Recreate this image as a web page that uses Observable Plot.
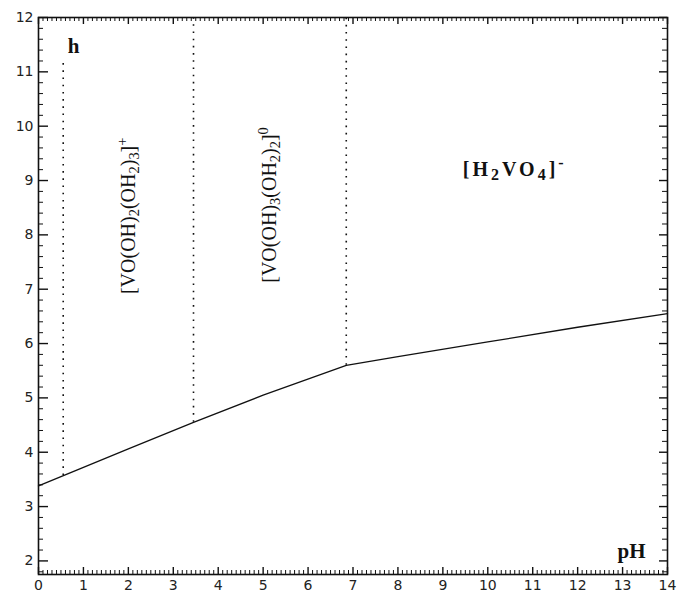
<!DOCTYPE html>
<html><head><meta charset="utf-8">
<script src="https://cdn.jsdelivr.net/npm/d3@7"></script>
<script src="https://cdn.jsdelivr.net/npm/@observablehq/plot@0.6"></script>
<style>body{margin:0;background:#fff}</style>
</head><body><div id="chart"></div>
<script>
// boundary curve h(pH)
const pH = [0, 1, 2, 3.45, 5, 6.85, 8, 10, 12, 14];
const hVal = [3.38, 3.72, 4.06, 4.55, 5.05, 5.6, 5.76, 6.03, 6.3, 6.55];
// dotted vertical boundaries
const divX = [0.55, 3.45, 6.85];
const divTop = [11.2, 12, 12];
const divBottom = [3.57, 4.55, 5.6];
// species labels
const speciesText = ["[VO(OH)_2(OH_2)_3]^+", "[VO(OH)_3(OH_2)_2]^0", "[H_2VO_4]^-"];
const speciesX = [2.0, 5.15, 10.6];
const speciesY = [8.35, 8.55, 9.2];
const speciesRotate = [-90, -90, 0];
// axis titles
const axisText = ["h", "pH"];
const axisX = [0.78, 13.2];
const axisY = [11.47, 2.17];
// ticks
const xMajor = d3.range(0, 15, 1);
const xMinor = d3.range(0, 140.5, 1).map(d => d / 10).filter(d => Math.abs(d - Math.round(d)) > 1e-6);
const yMajor = d3.range(2, 13, 1);
const yMinor = d3.range(9, 60.5, 1).map(d => d / 5).filter(d => Math.abs(d - Math.round(d)) > 1e-6);

const curve = pH.map((x, i) => ({x, y: hVal[i]}));
const divs = divX.map((x, i) => ({x, y1: divBottom[i], y2: divTop[i]}));
const species = speciesText.map((t, i) => ({t, x: speciesX[i], y: speciesY[i], r: speciesRotate[i]}));
const titles = axisText.map((t, i) => ({t, x: axisX[i], y: axisY[i]}));

const W = 681, H = 594, mL = 38, mR = 14, mT = 17, mB = 20;
const plotW = W - mL - mR, plotH = H - mT - mB;
const ink = "#111";
// inward tick marks as short rules (pixel length via insets)
const tickBottom = (t, len, sw) => Plot.ruleX(t, {x: d => d, insetTop: plotH - len, stroke: ink, strokeWidth: sw});
const tickTop = (t, len, sw) => Plot.ruleX(t, {x: d => d, insetBottom: plotH - len, stroke: ink, strokeWidth: sw});
const tickLeft = (t, len, sw) => Plot.ruleY(t, {y: d => d, insetRight: plotW - len, stroke: ink, strokeWidth: sw});
const tickRight = (t, len, sw) => Plot.ruleY(t, {y: d => d, insetLeft: plotW - len, stroke: ink, strokeWidth: sw});

const chart = Plot.plot({
  width: W, height: H,
  marginLeft: mL, marginRight: mR, marginTop: mT, marginBottom: mB,
  x: {domain: [0, 14]},
  y: {domain: [1.75, 12]},
  style: {fontFamily: "DejaVu Sans", fontSize: "14px", color: ink, background: "#fff"},
  marks: [
    Plot.axisX(xMajor, {anchor: "bottom", tickSize: 0, tickPadding: 6, tickFormat: d => String(d), label: null, fill: "#222", fontSize: 14}),
    Plot.axisY(yMajor, {anchor: "left", tickSize: 0, tickPadding: 5, tickFormat: d => String(d), label: null, fill: "#222", fontSize: 14}),
    tickBottom(xMajor, 7, 1.4),
    tickBottom(xMinor, 4, 1),
    tickTop(xMajor, 7, 1.4),
    tickTop(xMinor, 4, 1),
    tickLeft(yMajor, 10, 1.4),
    tickLeft(yMinor, 5, 1),
    tickRight(yMajor, 8, 1.4),
    tickRight(yMinor, 5, 1),
    Plot.frame({stroke: ink, strokeWidth: 1.6}),
    Plot.ruleX(divs, {x: "x", y1: "y1", y2: "y2", stroke: ink, strokeWidth: 1.6, strokeDasharray: "1.6,5.6"}),
    Plot.line(curve, {x: "x", y: "y", stroke: ink, strokeWidth: 1.3}),
    Plot.text(species.filter(d => d.r !== 0), {x: "x", y: "y", text: "t", rotate: -90, fontFamily: "Liberation Serif", fontSize: 20, fill: ink, textAnchor: "middle", lineAnchor: "middle"}),
    Plot.text(species.filter(d => d.r === 0), {x: "x", y: "y", text: "t", fontFamily: "Liberation Serif", fontWeight: "bold", fontSize: 20, fill: ink, textAnchor: "middle", lineAnchor: "middle"}),
    Plot.text(titles, {x: "x", y: "y", text: "t", fontFamily: "Liberation Serif", fontWeight: "bold", fontSize: 21, fill: ink, textAnchor: "middle", lineAnchor: "middle"})
  ]
});
document.getElementById("chart").appendChild(chart);

// render _x as subscript and ^x as superscript with real tspans
d3.select(chart).selectAll("text").each(function() {
  const s = this.textContent;
  if (!/[_^]/.test(s)) return;
  const el = d3.select(this);
  const wide = s.startsWith("[H");
  if (wide) el.attr("letter-spacing", "3px");
  el.text("");
  let shift = 0;
  for (let i = 0; i < s.length; i++) {
    const c = s[i];
    if ((c === "_" || c === "^") && i + 1 < s.length) {
      const target = c === "_" ? 4 : -8;
      el.append("tspan").attr("dy", target - shift).attr("font-size", wide ? "0.8em" : "0.72em").text(s[i + 1]);
      shift = target;
      i++;
    } else {
      el.append("tspan").attr("dy", -shift).text(c);
      shift = 0;
    }
  }
});
</script>
</body></html>
